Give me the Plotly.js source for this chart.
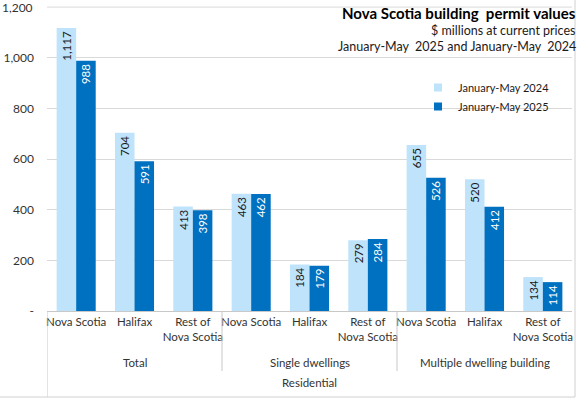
<!DOCTYPE html>
<html><head><meta charset="utf-8">
<script src="https://cdn.plot.ly/plotly-3.0.1.min.js"></script>
<style>html,body{margin:0;padding:0;background:#fff}#c{width:577px;height:398px}</style>
</head><body><div id="c"></div>
<script>
const categories = ["Nova Scotia","Halifax","Rest of<br>Nova Scotia","Nova Scotia","Halifax","Rest of<br>Nova Scotia","Nova Scotia","Halifax","Rest of<br>Nova Scotia"];
const groups = ["Total","Single dwellings","Multiple dwelling building"];
const topGroup = "Residential";
const series2024 = [1117,704,413,463,184,279,655,520,134];
const series2025 = [988,591,398,462,179,284,526,412,114];
const yTickVals = [0,200,400,600,800,1000,1200];
const yTickText = ["-","200","400","600","800","1,000","1,200"];
const seriesNames = ["January-May 2024","January-May 2025"];
const titleLines = ["Nova Scotia building  permit values","$ millions at current prices","January-May  2025 and January-May  2024"];

const LIGHT = "#BFE3FB", DARK = "#0070C0";
const FONT = "Lato, 'Open Sans', sans-serif";
const xs = categories.map((_, i) => i + 1);
const fmt = v => v.toLocaleString("en-US");
const yTop = yTickVals[yTickVals.length - 1];

const traces = [
  {type:"bar", x:xs, y:series2024, name:seriesNames[0], marker:{color:LIGHT}, showlegend:false,
   text:series2024.map(fmt), textposition:"inside", insidetextanchor:"end", textangle:-90,
   textfont:{color:"#1a1a1a", size:11.5, family:FONT}, hoverinfo:"skip", cliponaxis:false},
  {type:"bar", x:xs, y:series2025, name:seriesNames[1], marker:{color:DARK}, showlegend:false,
   text:series2025.map(fmt), textposition:"inside", insidetextanchor:"end", textangle:-90,
   textfont:{color:"#ffffff", size:11.5, family:FONT}, hoverinfo:"skip", cliponaxis:false},
  {type:"scatter", mode:"markers", x:[null], y:[null], name:seriesNames[0], marker:{symbol:"square", size:8, color:LIGHT}},
  {type:"scatter", mode:"markers", x:[null], y:[null], name:seriesNames[1], marker:{symbol:"square", size:8, color:DARK}}
];

const H = 311; // plot height in px
const py = px => -px / H; // px below the axis -> paper y

const annotations = [];
groups.forEach((g, k) => {
  annotations.push({xref:"x", yref:"paper", x: 3*k + 2, y: py(51), text:g, showarrow:false,
    xanchor:"center", yanchor:"middle", font:{size:11.5, color:"#333", family:FONT}});
});
annotations.push({xref:"paper", yref:"paper", x:0.5, y:py(72), text:topGroup, showarrow:false,
  xanchor:"center", yanchor:"middle", font:{size:11.5, color:"#333", family:FONT}});
annotations.push({xref:"paper", yref:"paper", x:1, xshift:6, y:1, yshift:-13, text:"<b>"+titleLines[0]+"</b>", showarrow:false,
  xanchor:"right", yanchor:"middle", font:{size:15, color:"#000", family:FONT}});
annotations.push({xref:"paper", yref:"paper", x:1, xshift:6, y:1, yshift:-30, text:titleLines[1], showarrow:false,
  xanchor:"right", yanchor:"middle", font:{size:12.5, color:"#1a1a1a", family:FONT}});
annotations.push({xref:"paper", yref:"paper", x:1, xshift:6, y:1, yshift:-46, text:titleLines[2], showarrow:false,
  xanchor:"right", yanchor:"middle", font:{size:12.5, color:"#1a1a1a", family:FONT}});
// top tick label (Plotly hides the one at the top edge)
annotations.push({xref:"paper", yref:"y", x:0, xshift:-12, y:yTop, text:yTickText[yTickText.length-1], showarrow:false,
  xanchor:"right", yanchor:"middle", font:{size:12, color:"#333", family:FONT}});

const line = {color:"#c8c8c8", width:1};
const shapes = [
  {type:"line", xref:"paper", yref:"y", x0:0, x1:1, y0:yTop, y1:yTop, line:{color:"#d9d9d9", width:1}, layer:"above"},
  {type:"line", xref:"x", yref:"paper", x0:0.5, x1:0.5, y0:0, y1:py(86), line},
  {type:"line", xref:"x", yref:"paper", x0:3.5, x1:3.5, y0:0, y1:py(60), line},
  {type:"line", xref:"x", yref:"paper", x0:6.5, x1:6.5, y0:0, y1:py(60), line},
  {type:"line", xref:"paper", yref:"paper", x0:-47/525, x1:528/525, y0:py(86), y1:py(86), line:{color:"#d0d0d0", width:1}},
  {type:"line", xref:"paper", yref:"paper", x0:528/525, x1:528/525, y0:py(86), y1:1, line:{color:"#d0d0d0", width:1}}
];

const layout = {
  width:577, height:398,
  margin:{l:47, r:5, t:0, b:87, pad:0},
  paper_bgcolor:"#fff", plot_bgcolor:"#fff",
  font:{family:FONT, color:"#333"},
  barmode:"group", bargap:0.33, bargroupgap:0,
  xaxis:{range:[0.5,9.5], tickvals:xs, ticktext:categories, tickangle:0, showgrid:false, zeroline:false,
    showline:true, linecolor:"#c8c8c8", ticks:"", tickfont:{size:11.5, color:"#333", family:FONT}, fixedrange:true},
  yaxis:{range:[0,1228], tickvals:yTickVals.slice(0,-1), ticktext:yTickText.slice(0,-1), showgrid:true, gridcolor:"#d9d9d9",
    zeroline:false, showline:false, ticks:"", ticklabelstandoff:12, tickfont:{size:12, color:"#333", family:FONT}, fixedrange:true},
  legend:{x:(418-47)/525, y:(311-73)/H, xanchor:"left", yanchor:"top", bgcolor:"rgba(0,0,0,0)",
    font:{size:11, color:"#1a1a1a", family:FONT}, itemwidth:30, tracegroupgap:0},
  annotations, shapes, uniformtext:{mode:false}
};
Plotly.newPlot("c", traces, layout, {staticPlot:true, displayModeBar:false});
</script></body></html>
